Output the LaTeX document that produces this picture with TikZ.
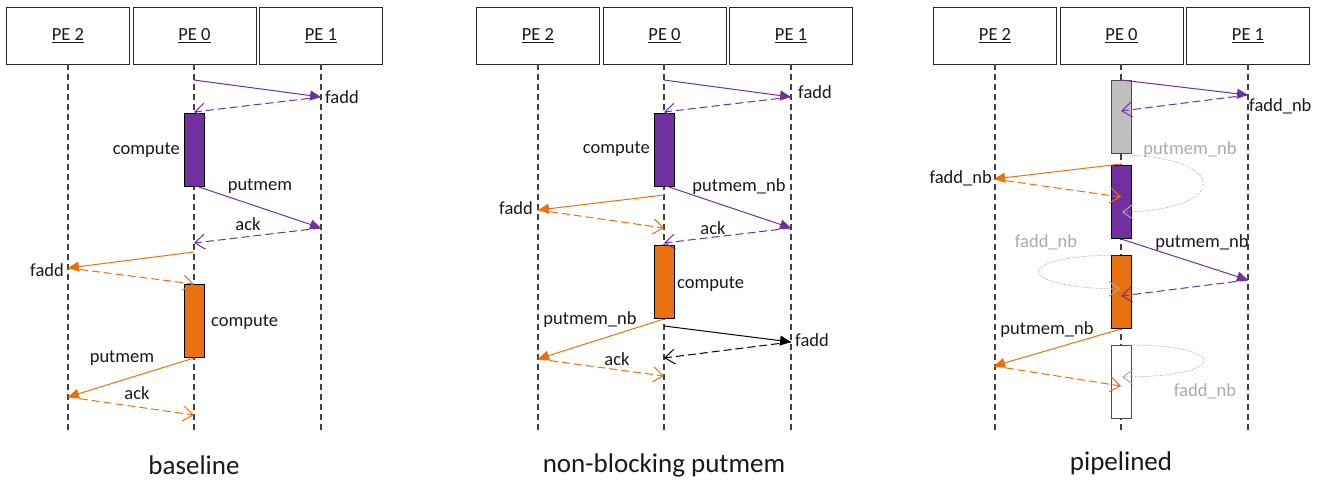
\documentclass[tikz,border=0pt]{standalone}
\usepackage{fontspec}
\setmainfont{Carlito}
\usetikzlibrary{arrows.meta}
\definecolor{pur}{RGB}{112,48,160}
\definecolor{org}{RGB}{233,113,16}
\definecolor{lgray}{RGB}{170,170,170}
\definecolor{boxgray}{RGB}{191,191,191}
\definecolor{lifec}{RGB}{64,64,64}
\begin{document}
\begin{tikzpicture}[x=1pt,y=-1pt,
  every node/.style={font=\fontsize{18.5}{20}\selectfont, text=black!90, inner sep=0pt},
  pebox/.style={draw=black!85, line width=1pt, minimum width=123pt, minimum height=57pt, fill=white},
  life/.style={draw=lifec, line width=1.1pt, dash pattern=on 6pt off 4pt},
  bar/.style={draw=black, line width=0.9pt, minimum width=20pt, minimum height=73pt, anchor=north},
  msg/.style={line width=1pt, -{Triangle[length=11pt,width=10pt]}},
  ret/.style={line width=1pt, dash pattern=on 8pt off 4pt, -{Straight Barb[length=10pt,width=15pt,line width=1pt]}},
  loopc/.style={draw=lgray, line width=0.8pt, dash pattern=on 1pt off 1.5pt, -{Straight Barb[length=10pt,width=15pt,line width=1pt,sep]}},
  title/.style={font=\fontsize{27}{30}\selectfont}
]
\useasboundingbox (0,0) rectangle (1321,479);
% ---------- PE boxes and lifelines (three panels) ----------
\foreach \p/\s in {a/0,b/470,c/927}{
  \node[pebox] (\p pe2) at (68+\s,35.5) {\underline{PE 2}};
  \node[pebox] (\p pe0) at (194.5+\s,35.5) {\underline{PE 0}};
  \node[pebox] (\p pe1) at (321+\s,35.5) {\underline{PE 1}};
  \coordinate (\p e2) at (68+\s,432);
  \coordinate (\p e0) at (194+\s,432);
  \coordinate (\p e1) at (321+\s,432);
  \draw[life] (68+\s,64) -- (\p e2);
  \draw[life] (194+\s,64) -- (\p e0);
  \draw[life] (321+\s,64) -- (\p e1);
}
% ================= baseline =================
\node[bar, fill=pur] (acomp1) at (194,113) {};
\node[bar, fill=org] (acomp2) at (194,284) {};
\coordinate (a1s) at (194,80);  \coordinate (a1e) at (321,97);
\coordinate (a2e) at (194,112);
\coordinate (a3s) at (196,186); \coordinate (a3e) at (321,228);
\coordinate (a4e) at (194,243);
\coordinate (a5s) at (194,252); \coordinate (a5e) at (68,268);
\coordinate (a6e) at (194,284);
\coordinate (a7s) at (194,358); \coordinate (a7e) at (68,397);
\coordinate (a8e) at (194,415);
\draw[msg, pur] (a1s) -- (a1e);
\draw[ret, pur] (a1e) -- (a2e);
\draw[msg, pur] (a3s) -- (a3e);
\draw[ret, pur] (a3e) -- (a4e);
\draw[msg, org] (a5s) -- (a5e);
\draw[ret, org] (a5e) -- (a6e);
\draw[msg, org] (a7s) -- (a7e);
\draw[ret, org] (a7e) -- (a8e);
\node[anchor=west] (alf1) at (325,97) {fadd};
\node[anchor=east] (alc1) at (180,150) {compute};
\node (alp1) at (260,186) {putmem};
\node (ala1) at (248,224) {ack};
\node[anchor=east] (alf2) at (64,270) {fadd};
\node[anchor=west] (alc2) at (211,322) {compute};
\node (alp2) at (122,358) {putmem};
\node (ala2) at (137,393) {ack};
\node[title] (atitle) at (194,465) {baseline};
% ================= non-blocking putmem =================
\node[bar, fill=pur] (bcomp1) at (664,113) {};
\node[bar, fill=org] (bcomp2) at (664,245) {};
\coordinate (b1s) at (664,80);  \coordinate (b1e) at (791,97);
\coordinate (b2e) at (664,112);
\coordinate (b3s) at (664,195); \coordinate (b3e) at (538,210);
\coordinate (b4e) at (664,228);
\coordinate (b5s) at (666,186); \coordinate (b5e) at (791,228);
\coordinate (b6e) at (664,243);
\coordinate (b7s) at (664,319); \coordinate (b7e) at (538,359);
\coordinate (b8e) at (664,376);
\coordinate (b9s) at (664,326); \coordinate (b9e) at (791,342);
\coordinate (b10e) at (664,358);
\draw[msg, pur] (b1s) -- (b1e);
\draw[ret, pur] (b1e) -- (b2e);
\draw[msg, org] (b3s) -- (b3e);
\draw[ret, org] (b3e) -- (b4e);
\draw[msg, pur] (b5s) -- (b5e);
\draw[ret, pur] (b5e) -- (b6e);
\draw[msg, org] (b7s) -- (b7e);
\draw[ret, org] (b7e) -- (b8e);
\draw[msg, black] (b9s) -- (b9e);
\draw[ret, black] (b9e) -- (b10e);
\node[anchor=west] (blf1) at (798,92) {fadd};
\node[anchor=east] (blc1) at (650,149) {compute};
\node[anchor=east] (blf2) at (533,208) {fadd};
\node (blp1) at (739,187) {putmem\_nb};
\node (bla1) at (713,228) {ack};
\node[anchor=west] (blc2) at (677,284) {compute};
\node (blp2) at (590,320) {putmem\_nb};
\node[anchor=west] (blf3) at (795,340) {fadd};
\node (bla2) at (617,359) {ack};
\node[title] (btitle) at (664,465) {non-blocking putmem};
% ================= pipelined =================
\node[bar, fill=boxgray, draw=black!70] (cbar1) at (1121,80) {};
\node[bar, fill=pur] (cbar2) at (1121,165) {};
\node[bar, fill=org] (cbar3) at (1121,255) {};
\node[bar, fill=white, draw=black!70] (cbar4) at (1121,345) {};
\coordinate (c1s) at (1121,80);  \coordinate (c1e) at (1248,95);
\coordinate (c2e) at (1121,111);
\coordinate (c3s) at (1121,164); \coordinate (c3e) at (994,179);
\coordinate (c4e) at (1121,197);
\coordinate (c5s) at (1121,239); \coordinate (c5e) at (1248,280);
\coordinate (c6e) at (1121,296);
\coordinate (c7s) at (1121,329); \coordinate (c7e) at (994,366);
\coordinate (c8e) at (1121,386);
\coordinate (cl1s) at (1124,155); \coordinate (cl1e) at (1121,212);
\coordinate (cl2s) at (1120,255); \coordinate (cl2e) at (1121,289);
\coordinate (cl3s) at (1128,345); \coordinate (cl3e) at (1121,377);
\draw[loopc] (cl1s) .. controls (1230,158) and (1230,210) .. (cl1e);
\draw[loopc] (cl2s) .. controls (1012,255) and (1012,288) .. (cl2e);
\draw[loopc] (cl3s) .. controls (1230,345) and (1230,377) .. (cl3e);
\draw[msg, pur] (c1s) -- (c1e);
\draw[ret, pur] (c1e) -- (c2e);
\draw[msg, org] (c3s) -- (c3e);
\draw[ret, org] (c3e) -- (c4e);
\draw[msg, pur] (c5s) -- (c5e);
\draw[ret, pur] (c5e) -- (c6e);
\draw[msg, org] (c7s) -- (c7e);
\draw[ret, org] (c7e) -- (c8e);
\node[anchor=west] (clf1) at (1249,106) {fadd\_nb};
\node[text=lgray] (clg1) at (1190,150) {putmem\_nb};
\node[anchor=east] (clf2) at (992,178) {fadd\_nb};
\node[text=lgray] (clg2) at (1046,242) {fadd\_nb};
\node (clp1) at (1202,243) {putmem\_nb};
\node (clp2) at (1047,330) {putmem\_nb};
\node[text=lgray] (clg3) at (1205,391) {fadd\_nb};
\node[title] (ctitle) at (1121,463) {pipelined};
\end{tikzpicture}
\end{document}
